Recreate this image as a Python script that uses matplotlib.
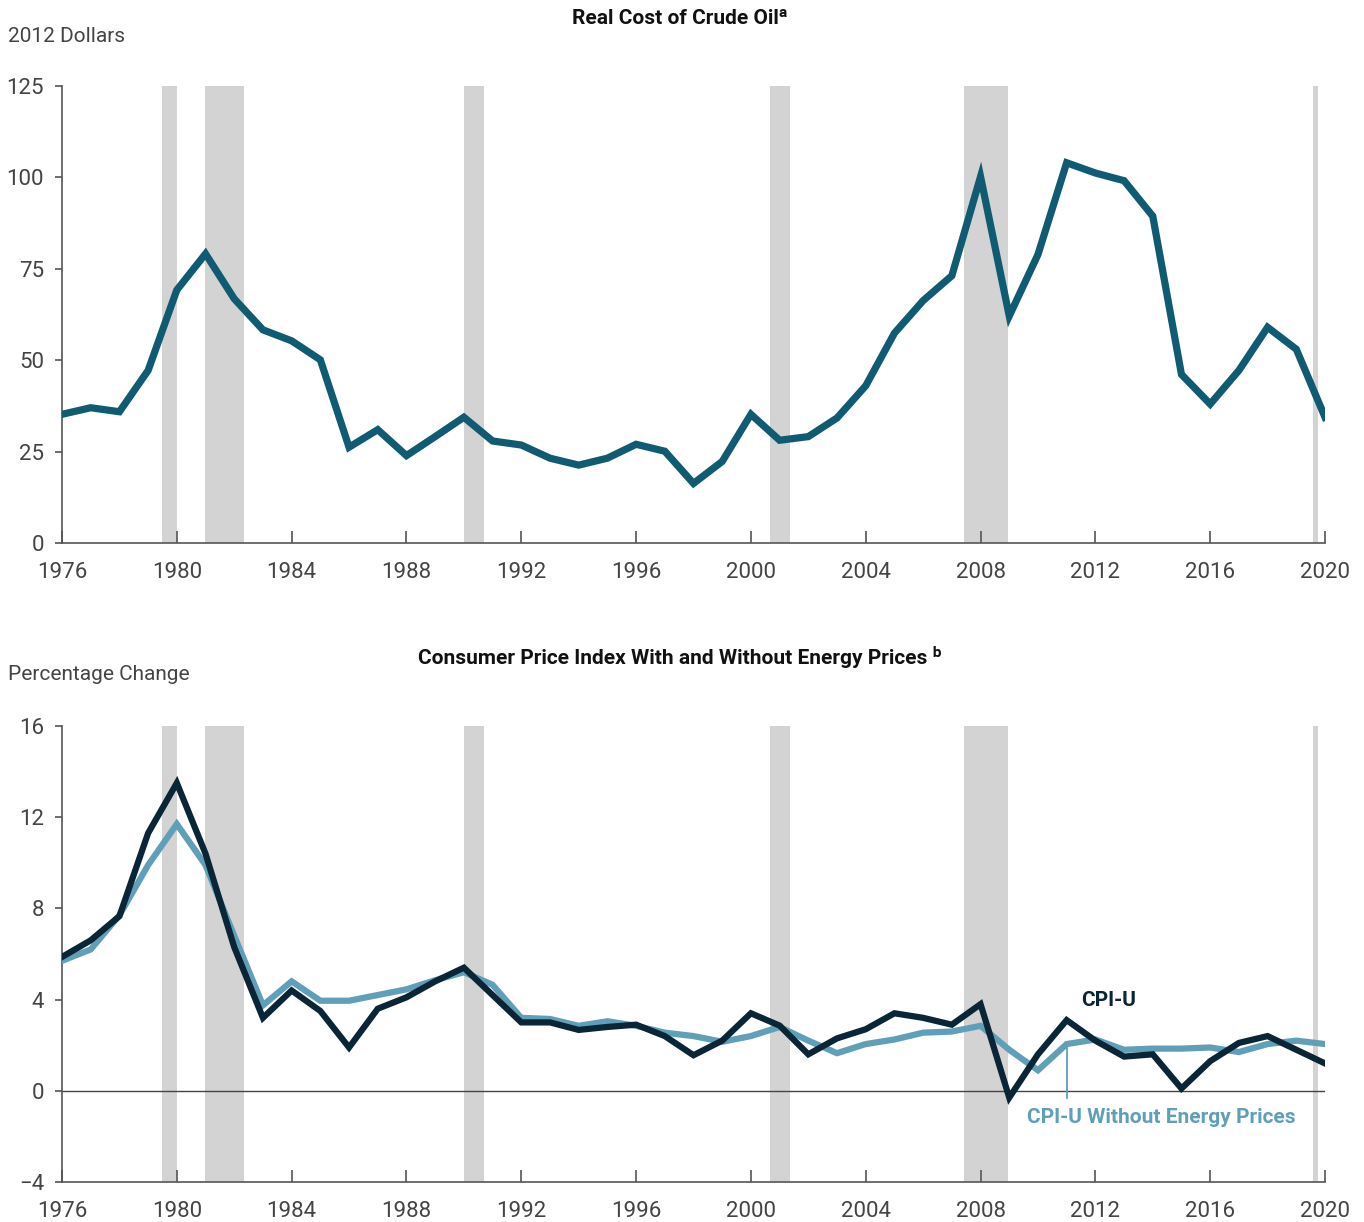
import matplotlib
matplotlib.use("Agg")
import matplotlib.pyplot as plt

plt.rcParams['font.family'] = ['Roboto', 'DejaVu Sans']

years = list(range(1976, 2021))

oil = [35.2, 37.0, 35.9, 47.2, 69.2, 79.1, 66.8, 58.3, 55.3, 50.1,
       26.2, 31.0, 23.9, 29.1, 34.4, 27.9, 26.8, 23.2, 21.3, 23.2,
       27.0, 25.1, 16.3, 22.3, 35.2, 28.1, 29.1, 34.2, 43.0, 57.4,
       66.3, 73.1, 100.2, 62.1, 78.9, 104.0, 101.2, 99.1, 89.4, 46.1,
       38.0, 47.2, 59.0, 53.0, 34.4]

cpi_u = [5.87, 6.6, 7.66, 11.3, 13.5, 10.4, 6.3, 3.2, 4.4, 3.5,
         1.9, 3.6, 4.1, 4.8, 5.4, 4.2, 3.0, 3.0, 2.67, 2.8,
         2.9, 2.4, 1.56, 2.2, 3.4, 2.86, 1.6, 2.3, 2.7, 3.4,
         3.2, 2.9, 3.8, -0.3, 1.6, 3.1, 2.2, 1.5, 1.6, 0.1,
         1.3, 2.1, 2.4, 1.8, 1.2]

cpi_ex_energy = [5.7, 6.2, 7.7, 9.9, 11.7, 9.9, 6.8, 3.75, 4.8, 3.95,
                 3.95, 4.2, 4.45, 4.85, 5.2, 4.65, 3.2, 3.15, 2.85, 3.05,
                 2.85, 2.55, 2.4, 2.15, 2.4, 2.8, 2.2, 1.65, 2.05, 2.25,
                 2.55, 2.6, 2.85, 1.8, 0.9, 2.05, 2.25, 1.8, 1.85, 1.85,
                 1.9, 1.7, 2.05, 2.2, 2.05]

recession_start = [1979.48, 1980.98, 1990.0, 2000.67, 2007.43, 2019.59]
recession_end = [1980.0, 1982.33, 1990.7, 2001.37, 2008.96, 2019.76]

oil_ticks = [0, 25, 50, 75, 100, 125]
cpi_ticks = [-4, 0, 4, 8, 12, 16]
year_ticks = list(range(1976, 2021, 4))

OIL_C = '#0f5b72'
DARK_C = '#0a2536'
LIGHT_C = '#5f9fb8'
SHADE_C = '#d3d3d3'
AX_C = '#555555'
TXT_C = '#444444'

fig = plt.figure(figsize=(13.64, 12.22), dpi=100)
W, H = 1364, 1222

def make_ax(top, bottom):
    return fig.add_axes([62 / W, 1 - bottom / H, (1325 - 62) / W, (bottom - top) / H])

ax1 = make_ax(86, 543)
ax2 = make_ax(726, 1182)

for ax in (ax1, ax2):
    for s, e in zip(recession_start, recession_end):
        ax.axvspan(s, e, color=SHADE_C, lw=0, zorder=0)
    ax.set_xlim(1976, 2020)
    ax.set_xticks(year_ticks)
    for sp in ('top', 'right'):
        ax.spines[sp].set_visible(False)
    for sp in ('left', 'bottom'):
        ax.spines[sp].set_color(AX_C)
        ax.spines[sp].set_linewidth(1.2)
    ax.tick_params(axis='x', direction='in', length=9, width=1.2, color=AX_C,
                   labelsize=16, labelcolor=TXT_C, pad=14)
    ax.tick_params(axis='y', direction='out', length=5, width=1.2, color=AX_C,
                   labelsize=16, labelcolor=TXT_C, pad=8)

ax1.plot(years, oil, color=OIL_C, lw=5.2, solid_joinstyle='miter', zorder=3)
ax1.set_ylim(0, 125)
ax1.set_yticks(oil_ticks)

ax2.axhline(0, color='#444444', lw=1.0, zorder=1)
ax2.plot(years, cpi_ex_energy, color=LIGHT_C, lw=4.5, solid_joinstyle='miter', zorder=3)
ax2.plot(years, cpi_u, color=DARK_C, lw=4.5, solid_joinstyle='miter', zorder=4)
ax2.set_ylim(-4, 16)
ax2.set_yticks(cpi_ticks)

ax2.text(2012.45, 3.55, 'CPI-U', color=DARK_C, fontsize=15, fontweight='bold',
         ha='center', va='bottom')
ax2.plot([2011, 2011], [1.95, -0.3], color=LIGHT_C, lw=1.3, zorder=2)
ax2.text(2014.3, -0.75, 'CPI-U Without Energy Prices', color=LIGHT_C, fontsize=15,
         fontweight='bold', ha='center', va='top')

fig.text(680 / W, 1 - 19 / H, 'Real Cost of Crude Oilᵃ', ha='center', va='center',
         fontsize=15, fontweight='bold', color='#111111')
fig.text(8 / W, 1 - 37 / H, '2012 Dollars', ha='left', va='center',
         fontsize=15, color=TXT_C)
fig.text(680 / W, 1 - 657 / H, 'Consumer Price Index With and Without Energy Prices ᵇ',
         ha='center', va='center', fontsize=15, fontweight='bold', color='#111111')
fig.text(8 / W, 1 - 674 / H, 'Percentage Change', ha='left', va='center',
         fontsize=15, color=TXT_C)

fig.savefig('out.png', dpi=100)
